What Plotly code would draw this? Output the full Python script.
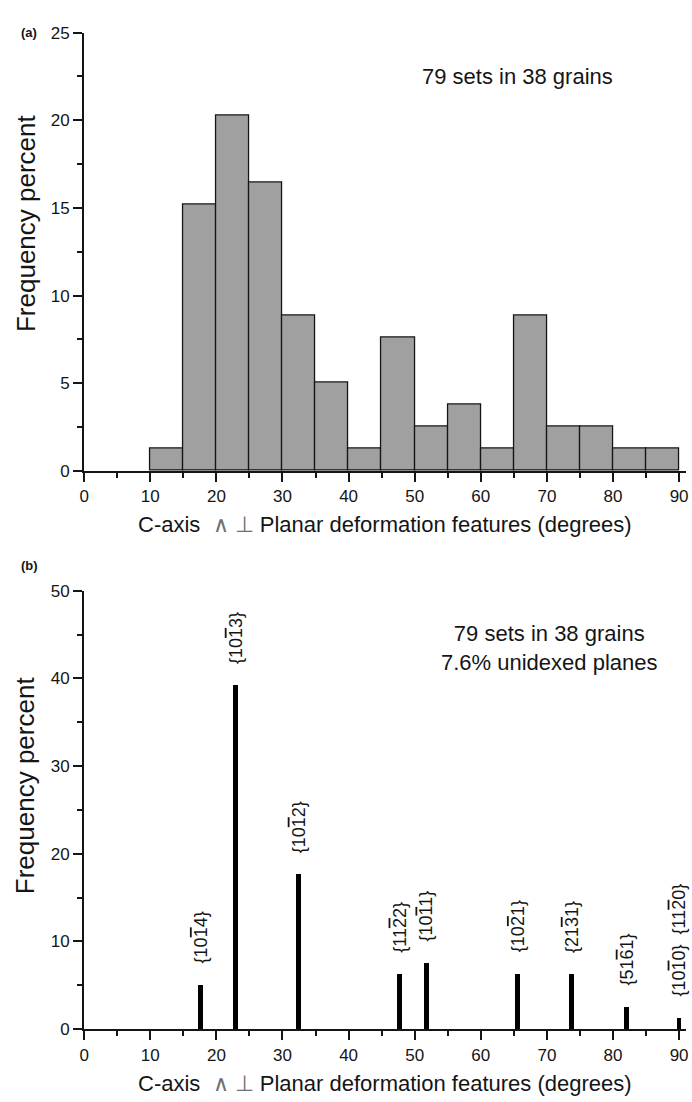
import plotly.graph_objects as go

# ---- data (a): histogram of c-axis / PDF pole angles, 5-degree bins ----
bin_left = [10, 15, 20, 25, 30, 35, 40, 45, 50, 55, 60, 65, 70, 75, 80, 85]
bin_width = 5
freq_a = [1.27, 15.19, 20.25, 16.46, 8.86, 5.06, 1.27, 7.59, 2.53, 3.80, 1.27, 8.86, 2.53, 2.53, 1.27, 1.27]

# ---- data (b): indexed crystallographic planes ----
plane_angle = [17.62, 22.95, 32.42, 47.73, 51.79, 65.56, 73.71, 82.07, 90.0]
freq_b = [5.06, 39.24, 17.72, 6.33, 7.59, 6.33, 6.33, 2.53, 1.27]


def ol(d):
    return '<span style="text-decoration:overline">' + d + "</span>"


plane_label = [
    "{10" + ol("1") + "4}",
    "{10" + ol("1") + "3}",
    "{10" + ol("1") + "2}",
    "{11" + ol("2") + "2}",
    "{10" + ol("1") + "1}",
    "{10" + ol("2") + "1}",
    "{21" + ol("3") + "1}",
    "{51" + ol("6") + "1}",
    "{10" + ol("1") + "0}  {11" + ol("2") + "0}",
]

xticks = [0, 10, 20, 30, 40, 50, 60, 70, 80, 90]
x_title = ('C-axis  <span style="color:#707070">\u2227</span> '
           '<span style="color:#707070">\u22a5</span> Planar deformation features (degrees)')
y_title = "Frequency percent"
note_a = "79 sets in 38 grains"
note_b = "79 sets in 38 grains<br>7.6% unidexed planes"

W, H = 692, 1102
FONT = "Liberation Sans, Arial, sans-serif"
INK = "#151515"


def px_y(py):
    return 1 - py / H


def px_x(px):
    return px / W


fig = go.Figure()

fig.add_trace(go.Bar(
    x=[b + bin_width / 2 for b in bin_left], y=freq_a, width=bin_width,
    marker=dict(color="#a0a0a0", line=dict(color=INK, width=1.3)),
    xaxis="x", yaxis="y", showlegend=False, hoverinfo="skip",
))

fig.add_trace(go.Bar(
    x=plane_angle, y=freq_b, width=0.7,
    marker=dict(color="#000000", line=dict(width=0)),
    xaxis="x2", yaxis="y2", showlegend=False, hoverinfo="skip",
))

xdom = [px_x(80), px_x(688)]
xrange_ = [0, 91.05]
minor_common = dict(ticks="outside", ticklen=5, tickwidth=1.5, tickcolor=INK)
axis_common = dict(
    showline=True, linecolor=INK, linewidth=2, ticks="outside",
    tickcolor=INK, tickwidth=1.5, ticklen=9, showgrid=False,
    zeroline=False, tickfont=dict(family=FONT, size=17, color=INK),
)

fig.update_layout(
    width=W, height=H, margin=dict(l=0, r=0, t=0, b=0),
    paper_bgcolor="white", plot_bgcolor="white", bargap=0,
    xaxis=dict(domain=xdom, range=xrange_, anchor="y", tickvals=xticks,
               minor=dict(dtick=5, tick0=0, **minor_common), **axis_common),
    yaxis=dict(domain=[px_y(470), px_y(24)], range=[0, 25], anchor="x", dtick=5,
               minor=dict(dtick=2.5, tick0=0, **minor_common), **axis_common),
    xaxis2=dict(domain=xdom, range=xrange_, anchor="y2", tickvals=xticks,
                minor=dict(dtick=5, tick0=0, **minor_common), **axis_common),
    yaxis2=dict(domain=[px_y(1038), px_y(592)], range=[0, 50], anchor="x2", dtick=10,
                minor=dict(dtick=5, tick0=0, **minor_common), **axis_common),
)

ann = []
# plane labels (rotated)
for xa, ya, lab in zip(plane_angle, freq_b, plane_label):
    ann.append(dict(x=xa, y=ya, xref="x2", yref="y2", text=lab, textangle=-90,
                    showarrow=False, xanchor="center", yanchor="bottom", yshift=19,
                    font=dict(family=FONT, size=18, color=INK)))


def paper_text(x, y, text, size, angle=0, xanchor="center", bold=False):
    return dict(x=px_x(x), y=px_y(y), xref="paper", yref="paper",
                text=("<b>%s</b>" % text) if bold else text, textangle=angle,
                showarrow=False, xanchor=xanchor, yanchor="middle", align="center",
                font=dict(family=FONT, size=size, color=INK))


# panel notes
ann.append(paper_text(518, 69, note_a, 22))
ann.append(paper_text(550, 650, note_b, 22))

# panel letters
ann.append(paper_text(14, 24, "(a)", 13, xanchor="left", bold=True))
ann.append(paper_text(14, 566, "(b)", 13, xanchor="left", bold=True))

# axis titles
for ybase in (470, 1038):
    ann.append(paper_text(384, ybase + 55, x_title, 22))
for ycen in (218, 790):
    ann.append(paper_text(21, ycen, y_title, 26, angle=-90))

fig.update_layout(annotations=ann)
fig.write_html(
    "out.html",
    config={"displayModeBar": False},
    post_script="document.body.style.margin='0';document.body.style.overflow='hidden';",
)
